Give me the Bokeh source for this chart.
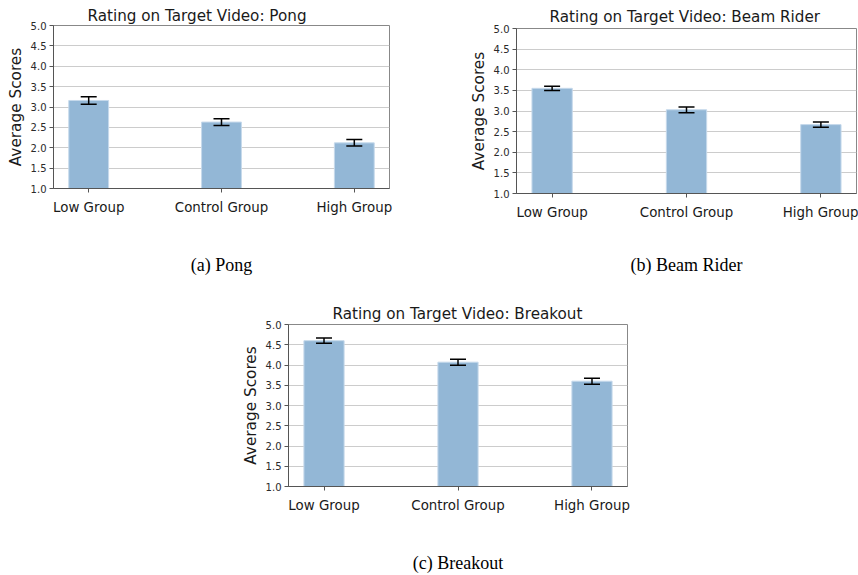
from bokeh.plotting import figure
from bokeh.models import (ColumnDataSource, Range1d, FixedTicker, Whisker, TeeHead,
                          Spacer)
from bokeh.layouts import row, column
from bokeh.embed import file_html
from bokeh.resources import INLINE

# ---------------- data ----------------
groups = ["Low Group", "Control Group", "High Group"]
y_ticks = [1.0, 1.5, 2.0, 2.5, 3.0, 3.5, 4.0, 4.5, 5.0]

pong_means = [3.16, 2.63, 2.12]
pong_errs = [0.09, 0.083, 0.08]

beam_means = [3.55, 3.03, 2.67]
beam_errs = [0.05, 0.07, 0.065]

breakout_means = [4.60, 4.07, 3.60]
breakout_errs = [0.065, 0.075, 0.075]

titles = ["Rating on Target Video: Pong",
          "Rating on Target Video: Beam Rider",
          "Rating on Target Video: Breakout"]
captions = ["(a) Pong", "(b) Beam Rider", "(c) Breakout"]

BAR_FILL = "#93b7d6"
SANS = "DejaVu Sans"
SERIF = "Liberation Serif"


def make_chart(title, means, errs, caption, width, height, bl, br, bt, bb,
               title_offset, title_standoff, cap_standoff):
    xs = list(range(len(groups)))
    src = ColumnDataSource(dict(
        x=xs, top=means,
        upper=[m + e for m, e in zip(means, errs)],
        lower=[m - e for m, e in zip(means, errs)],
    ))
    p = figure(width=width, height=height, output_backend="svg",
               toolbar_location=None, tools="",
               x_range=Range1d(-0.265, 2.265),
               y_range=Range1d(y_ticks[0], y_ticks[-1]),
               min_border_left=bl, min_border_right=br,
               min_border_top=bt, min_border_bottom=bb)
    p.vbar(x="x", top="top", bottom=y_ticks[0], width=0.3, source=src,
           fill_color=BAR_FILL, line_color="#c6d9eb", line_width=1)
    w = Whisker(source=src, base="x", upper="upper", lower="lower",
                line_color="black", line_width=1.5, level="overlay",
                upper_head=TeeHead(size=16, line_color="black", line_width=1.5),
                lower_head=TeeHead(size=16, line_color="black", line_width=1.5))
    p.add_layout(w)

    # title
    p.title.text = title
    p.title.align = "left"
    p.title.offset = title_offset
    p.title.standoff = title_standoff
    p.title.text_font = SANS
    p.title.text_font_size = "15.2px"
    p.title.text_font_style = "normal"
    p.title.text_color = "#1a1a1a"

    # x axis (caption as axis label)
    p.xaxis.ticker = FixedTicker(ticks=xs)
    p.xaxis.major_label_overrides = {i: g for i, g in zip(xs, groups)}
    p.xaxis.major_label_text_font = SANS
    p.xaxis.major_label_text_font_size = "13.4px"
    p.xaxis.major_label_text_color = "#1a1a1a"
    p.xaxis.major_label_standoff = 7
    p.xaxis.minor_tick_line_color = None
    p.xaxis.major_tick_in = 0
    p.xaxis.major_tick_out = 4
    p.xaxis.axis_line_color = "#555555"
    p.xaxis.major_tick_line_color = "#555555"
    p.xaxis.axis_label = caption
    p.xaxis.axis_label_text_font = SERIF
    p.xaxis.axis_label_text_font_size = "18px"
    p.xaxis.axis_label_text_font_style = "normal"
    p.xaxis.axis_label_text_color = "black"
    p.xaxis.axis_label_standoff = cap_standoff

    p.yaxis.ticker = FixedTicker(ticks=y_ticks)
    p.yaxis.major_label_overrides = {t: f"{t:.1f}" for t in y_ticks}
    p.yaxis.major_label_text_font = SANS
    p.yaxis.major_label_text_font_size = "10px"
    p.yaxis.major_label_text_color = "#2a2a2a"
    p.yaxis.major_label_standoff = 3
    p.yaxis.minor_tick_line_color = None
    p.yaxis.major_tick_in = 0
    p.yaxis.major_tick_out = 4
    p.yaxis.axis_line_color = "#555555"
    p.yaxis.major_tick_line_color = "#555555"
    p.yaxis.axis_label = "Average Scores"
    p.yaxis.axis_label_text_font = SANS
    p.yaxis.axis_label_text_font_size = "15.3px"
    p.yaxis.axis_label_text_font_style = "normal"
    p.yaxis.axis_label_text_color = "#1a1a1a"
    p.yaxis.axis_label_standoff = 3

    p.xgrid.grid_line_color = None
    p.ygrid.grid_line_color = "#cccccc"
    p.ygrid.grid_line_width = 1
    p.outline_line_color = "#888888"
    p.outline_line_width = 1
    p.background_fill_color = "white"
    p.border_fill_color = "white"
    return p


pa = make_chart(titles[0], pong_means, pong_errs, captions[0],
                440, 290, 53, 51, 25, 102, 34, 2, 37)
pb = make_chart(titles[1], beam_means, beam_errs, captions[1],
                418, 290, 76, 2, 28, 97, 33, 5, 32)
pc = make_chart(titles[2], breakout_means, breakout_errs, captions[2],
                457, 285, 58, 60, 34, 87, 44, 3, 37)

layout = column(row(column(pa), column(pb)),
                row(Spacer(width=230, height=285), pc))

open("out.html", "w").write(file_html(layout, INLINE))
